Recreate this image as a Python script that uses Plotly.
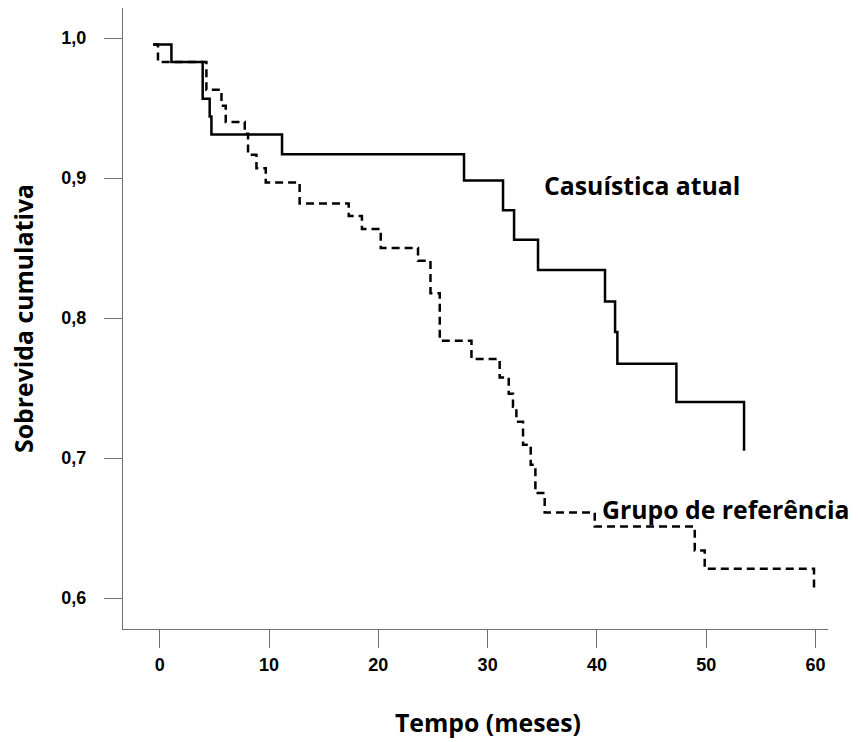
import plotly.graph_objects as go

# Casuística atual (solid) - step points (time in months, cumulative survival)
atual_t = [-0.6, 1.07, 3.93, 4.57, 4.73, 11.19, 27.84, 31.41, 32.42, 34.61,
           40.74, 41.66, 41.87, 47.27, 53.46]
atual_s = [0.9955, 0.983, 0.9566, 0.944, 0.9311, 0.9171, 0.8983, 0.8771, 0.8559, 0.8343,
           0.8119, 0.790, 0.7674, 0.740, 0.7052]

# Grupo de referência (dashed)
ref_t = [-0.6, -0.16, 4.27, 5.65, 6.04, 7.78, 8.08, 8.85, 9.7, 12.8, 17.29, 18.5,
         20.22, 23.63, 24.77, 25.62, 28.52, 31.1, 31.93, 32.32, 32.63, 33.24, 33.94,
         34.37, 35.22, 39.80, 48.95, 49.86, 59.86]
ref_s = [0.9955, 0.983, 0.9631, 0.9516, 0.940, 0.9316, 0.9166, 0.907, 0.8969, 0.8818,
         0.873, 0.8636, 0.8501, 0.8409, 0.8178, 0.7838, 0.7708, 0.7576, 0.746, 0.7366,
         0.726, 0.7095, 0.6952, 0.675, 0.6611, 0.6511, 0.634, 0.6209, 0.6045]

x_ticks = [0, 10, 20, 30, 40, 50, 60]
y_ticks = [0.6, 0.7, 0.8, 0.9, 1.0]
y_ticktext = ["0,6", "0,7", "0,8", "0,9", "1,0"]

label_font = dict(family="Open Sans", size=24.8, color="black")

fig = go.Figure()
fig.add_trace(go.Scatter(x=atual_t, y=atual_s, mode="lines", line_shape="hv",
                         line=dict(color="black", width=2.5), showlegend=False))
fig.add_trace(go.Scatter(x=ref_t, y=ref_s, mode="lines", line_shape="hv",
                         line=dict(color="black", width=2.5, dash="8px,5px"), showlegend=False))

axis_gray = "#707070"
fig.update_xaxes(range=[-3.36, 61.14], tickvals=x_ticks, ticks="outside", ticklen=18,
                 tickcolor=axis_gray, tickwidth=1.2, showline=True, linecolor=axis_gray,
                 linewidth=1.3, showgrid=False, zeroline=False, ticklabelstandoff=1,
                 tickfont=dict(family="Liberation Sans", size=18, color="black", weight="bold"))
fig.update_yaxes(range=[0.5779, 1.0215], tickvals=y_ticks, ticktext=y_ticktext,
                 ticks="outside", ticklen=18, tickcolor=axis_gray, tickwidth=1.2,
                 showline=True, linecolor=axis_gray, linewidth=1.3, showgrid=False,
                 zeroline=False, ticklabelstandoff=14,
                 tickfont=dict(family="Liberation Sans", size=18, color="black", weight="bold"))

fig.add_annotation(x=35.0, y=0.8952, xref="x", yref="y", text="<b>Casuística atual</b>",
                   showarrow=False, xanchor="left", yanchor="middle", font=label_font)
fig.add_annotation(x=40.3, y=0.6638, xref="x", yref="y", text="<b>Grupo de referência</b>",
                   showarrow=False, xanchor="left", yanchor="middle", font=label_font)
fig.add_annotation(x=30, y=-0.1498, xref="x", yref="paper", text="<b>Tempo (meses)</b>",
                   showarrow=False, xanchor="center", yanchor="middle", font=label_font)
fig.add_annotation(x=-0.142, y=0.8, xref="paper", yref="y", text="<b>Sobrevida cumulativa</b>",
                   showarrow=False, xanchor="center", yanchor="middle", textangle=-90,
                   font=label_font)

fig.update_layout(width=858, height=742, margin=dict(l=123, r=30, t=8, b=113),
                  plot_bgcolor="white", paper_bgcolor="white")

fig.write_html("out.html")
